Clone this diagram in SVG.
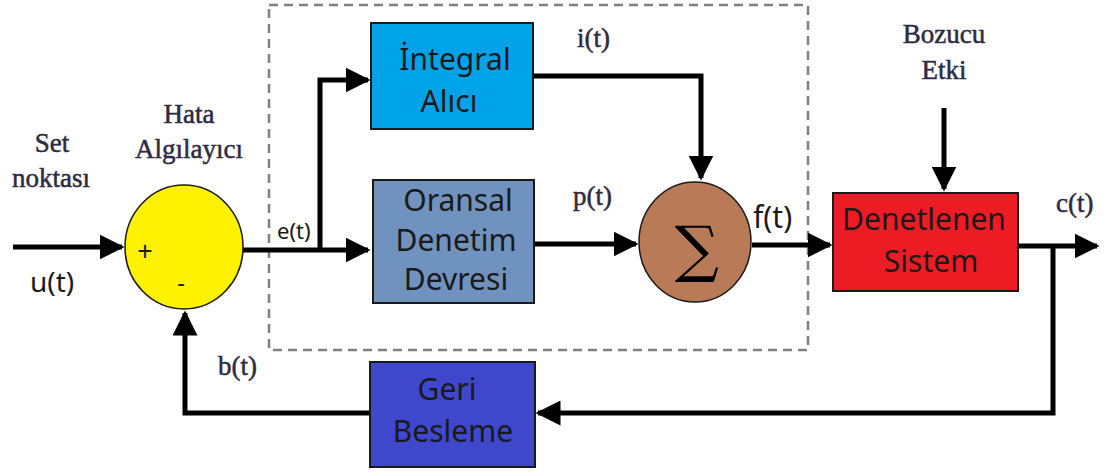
<svg xmlns="http://www.w3.org/2000/svg" width="1113" height="474" viewBox="0 0 1113 474">
  <style>
    .box { stroke: #1a1a1a; stroke-width: 2; }
    .lbl { font-family: "Noto Sans", "Liberation Sans", sans-serif; font-size: 30px; fill: #1a1a1a; text-anchor: middle; }
    .ser { font-family: "Liberation Serif", serif; font-size: 27px; fill: #2e2a40; stroke: #2e2a40; stroke-width: 0.5; }
    .mid { text-anchor: middle; }
    .sig { font-family: "Noto Sans", "Liberation Sans", sans-serif; fill: #1a1a1a; }
    .wire { fill: none; stroke: #000; stroke-width: 5; stroke-linejoin: miter; }
  </style>
  <defs>
    <marker id="arrow" viewBox="0 0 10 10" refX="9" refY="5" markerWidth="5" markerHeight="5" markerUnits="strokeWidth" orient="auto">
      <path d="M0,0 L10,5 L0,10 z" fill="#000"/>
    </marker>
  </defs>
  <rect width="1113" height="474" fill="#fff"/>

  <!-- controller boundary -->
  <rect id="controller" x="269" y="5" width="539" height="345" fill="none" stroke="#808080" stroke-width="2.5" stroke-dasharray="9,6"/>

  <g id="connectors">
    <path class="wire" d="M13,247 H122" marker-end="url(#arrow)"/>
    <path class="wire" d="M243,250 H368" marker-end="url(#arrow)"/>
    <path class="wire" d="M320,250 V80 H368" marker-end="url(#arrow)"/>
    <path class="wire" d="M533,76 H701 V178" marker-end="url(#arrow)"/>
    <path class="wire" d="M534,244 H636" marker-end="url(#arrow)"/>
    <path class="wire" d="M752,245 H830" marker-end="url(#arrow)"/>
    <path class="wire" d="M944,108 V189" marker-end="url(#arrow)"/>
    <path class="wire" d="M1018,246 H1097" marker-end="url(#arrow)"/>
    <path class="wire" d="M1053,246 V413 H538" marker-end="url(#arrow)"/>
    <path class="wire" d="M370,413 H185 V313" marker-end="url(#arrow)"/>
  </g>

  <g id="error-detector">
    <ellipse cx="184" cy="247" rx="59" ry="62" fill="#fff200" stroke="#1a1a1a" stroke-width="1.5"/>
    <text class="sig" x="145" y="261" font-size="27" text-anchor="middle">+</text>
    <text class="sig" x="181" y="291" font-size="24" text-anchor="middle">-</text>
  </g>

  <g id="integral">
    <rect class="box" x="371" y="23" width="162" height="106" fill="#00a2e8"/>
    <text class="lbl" x="455" y="70">İntegral</text>
    <text class="lbl" x="449" y="112">Alıcı</text>
  </g>

  <g id="proportional">
    <rect class="box" x="373" y="180" width="161" height="123" fill="#7092be"/>
    <text class="lbl" x="458" y="211" font-size="28">Oransal</text>
    <text class="lbl" x="456" y="251" font-size="28">Denetim</text>
    <text class="lbl" x="456" y="290" font-size="28">Devresi</text>
  </g>

  <g id="summing">
    <ellipse cx="695" cy="242" rx="56" ry="60" fill="#b97a57" stroke="#1a1a1a" stroke-width="1.5"/>
    <text x="697" y="270" font-family="DejaVu Serif, serif" font-size="62" text-anchor="middle" fill="#000">∑</text>
  </g>

  <g id="plant">
    <rect class="box" x="833" y="193" width="185" height="98" fill="#ed1c24"/>
    <text class="lbl" x="924" y="230" fill="#3a0a0a">Denetlenen</text>
    <text class="lbl" x="931" y="272" fill="#3a0a0a">Sistem</text>
  </g>

  <g id="feedback">
    <rect class="box" x="370" y="362" width="165" height="105" fill="#3f48cc"/>
    <text class="lbl" x="447" y="400">Geri</text>
    <text class="lbl" x="453" y="442">Besleme</text>
  </g>

  <g id="labels">
    <text class="ser mid" x="52" y="152">Set</text>
    <text class="ser mid" x="51" y="187">noktası</text>
    <text class="ser mid" x="189" y="123">Hata</text>
    <text class="ser mid" x="189" y="158">Algılayıcı</text>
    <text class="ser mid" x="944" y="43">Bozucu</text>
    <text class="ser mid" x="944" y="79">Etki</text>
    <text class="ser" x="577" y="47">i(t)</text>
    <text class="ser" x="573" y="205">p(t)</text>
    <text class="ser" x="1056" y="212">c(t)</text>
    <text class="ser" x="218" y="375">b(t)</text>
    <text class="sig" x="30" y="292" font-size="28">u(t)</text>
    <text class="sig" x="277" y="239" font-size="22">e(t)</text>
    <text class="sig" x="753" y="228" font-size="30">f(t)</text>
  </g>
</svg>
